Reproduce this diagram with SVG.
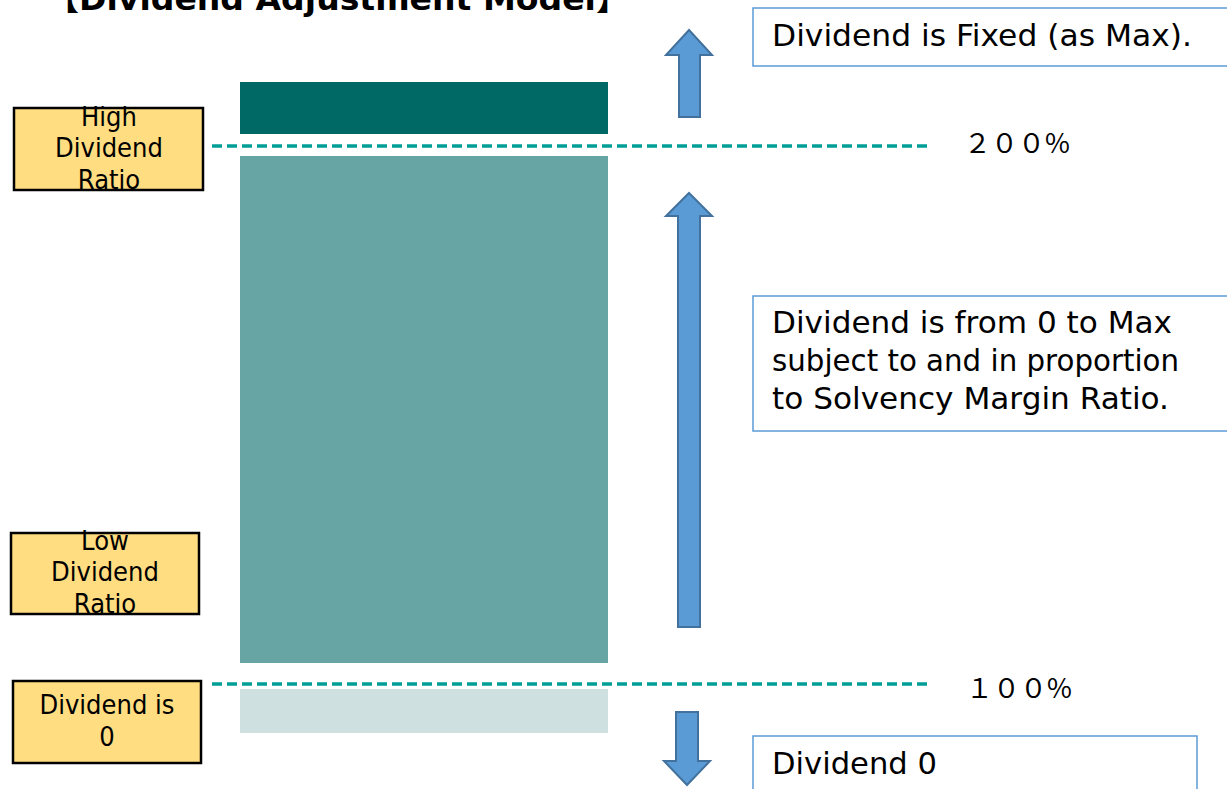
<svg xmlns="http://www.w3.org/2000/svg" width="1227" height="789" viewBox="0 0 1227 789">
  <style>
    .title { font-family: "DejaVu Sans", "Noto Sans CJK JP", sans-serif; font-weight: bold; font-size: 32px; fill: #000; }
    .tag rect { fill: #FFDD80; stroke: #000; stroke-width: 2.5; }
    .tag text { font-family: "DejaVu Sans Condensed", "DejaVu Sans", sans-serif; font-size: 27px; fill: #000; text-anchor: middle; }
    .note rect { fill: #fff; stroke: #5B9BD5; stroke-width: 1.5; }
    .note text { font-family: "DejaVu Sans", sans-serif; font-size: 30px; fill: #000; }
    .level { stroke: #009E96; stroke-width: 3.5; stroke-dasharray: 10 5; fill: none; }
    .pct { font-family: "Noto Sans CJK JP", sans-serif; font-size: 27px; fill: #000; }
    .arrow { fill: #5B9BD5; stroke: #41719C; stroke-width: 2; stroke-linejoin: miter; }
  </style>

  <rect width="1227" height="789" fill="#fff"/>

  <text id="title" class="title" x="46" y="10" textLength="583" lengthAdjust="spacingAndGlyphs">【Dividend Adjustment Model】</text>

  <!-- solvency bands -->
  <g id="bands">
    <rect x="240" y="82" width="368" height="52" fill="#006966"/>
    <rect x="240" y="156" width="368" height="507" fill="#67A5A4"/>
    <rect x="240" y="689" width="368" height="44" fill="#CEE1E0"/>
  </g>

  <!-- threshold lines and arrows -->
  <g id="connectors">
    <line class="level" x1="212" y1="146" x2="932" y2="146"/>
    <line class="level" x1="212" y1="684" x2="932" y2="684"/>
    <path class="arrow" d="M689 30 L712 55 L700 55 L700 117 L679 117 L679 55 L666 55 Z"/>
    <path class="arrow" d="M689 193 L712 216 L700 216 L700 627 L678 627 L678 216 L666 216 Z"/>
    <path class="arrow" d="M687 785 L710 761 L698 761 L698 712 L676 712 L676 761 L664 761 Z"/>
  </g>

  <g id="pct200"><text class="pct" x="964" y="153">２００%</text></g>
  <g id="pct100"><text class="pct" x="966" y="698">１００%</text></g>

  <!-- left labels -->
  <g id="high" class="tag">
    <rect x="14" y="108" width="189" height="82"/>
    <text x="109" y="126">High</text>
    <text x="109" y="157">Dividend</text>
    <text x="109" y="189">Ratio</text>
  </g>
  <g id="low" class="tag">
    <rect x="11" y="533" width="188" height="81"/>
    <text x="105" y="550">Low</text>
    <text x="105" y="581">Dividend</text>
    <text x="105" y="613">Ratio</text>
  </g>
  <g id="zero" class="tag">
    <rect x="13" y="681" width="188" height="82"/>
    <text x="107" y="714">Dividend is</text>
    <text x="107" y="746">0</text>
  </g>

  <!-- right notes -->
  <g id="fixed" class="note">
    <rect x="753" y="8" width="480" height="58"/>
    <text x="772" y="46" textLength="420" lengthAdjust="spacingAndGlyphs">Dividend is Fixed (as Max).</text>
  </g>
  <g id="proportional" class="note">
    <rect x="753" y="296" width="480" height="135"/>
    <text x="772" y="333" textLength="400" lengthAdjust="spacingAndGlyphs">Dividend is from 0 to Max</text>
    <text x="772" y="371" textLength="407" lengthAdjust="spacingAndGlyphs">subject to and in proportion</text>
    <text x="772" y="409" textLength="397" lengthAdjust="spacingAndGlyphs">to Solvency Margin Ratio.</text>
  </g>
  <g id="nodiv" class="note">
    <rect x="753" y="736" width="444" height="60"/>
    <text x="772" y="774" textLength="165" lengthAdjust="spacingAndGlyphs">Dividend 0</text>
  </g>
</svg>
